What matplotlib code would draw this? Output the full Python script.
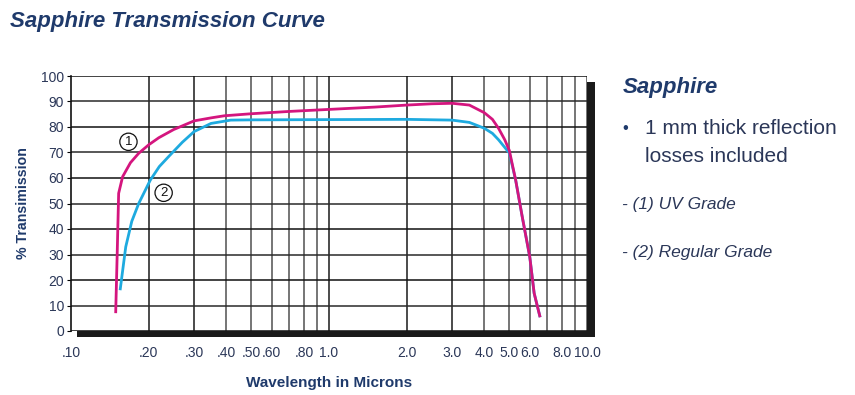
import matplotlib
matplotlib.use("Agg")
import matplotlib.pyplot as plt
from matplotlib.patches import Rectangle

plt.rcParams['font.family'] = ['Liberation Sans', 'DejaVu Sans']

# curve (1) UV grade
uv_x = [0.149, 0.151, 0.153, 0.1585, 0.17, 0.183, 0.20, 0.219, 0.25, 0.30, 0.35,
        0.393, 0.5, 0.7, 1.0, 1.5, 2.0, 2.5, 3.0, 3.5, 4.0, 4.3, 4.54, 4.8,
        5.0, 5.29, 5.61, 6.0, 6.24, 6.58]
uv_y = [7, 30, 54, 60.5, 66, 69.7, 73, 75.8, 79, 82.4, 83.6,
        84.4, 85.2, 86.1, 86.9, 87.8, 88.6, 89.1, 89.3, 88.6, 85.6, 83, 79.5, 75,
        70.8, 59.2, 44.8, 29.1, 14.8, 5.4]

# curve (2) regular grade
reg_x = [0.155, 0.163, 0.172, 0.183, 0.203, 0.22, 0.239, 0.27, 0.30, 0.349,
         0.416, 0.5, 1.0, 2.0, 3.0, 3.5, 4.0, 4.3, 4.54, 4.8,
         5.0, 5.29, 5.61, 6.0, 6.24, 6.58]
reg_y = [16, 33, 43, 50, 59.2, 64.5, 68.4, 74, 78.2, 81.4,
         82.7, 82.8, 82.9, 83.0, 82.7, 81.8, 79.5, 77.5, 75, 72,
         69.8, 59.2, 44.8, 29.1, 14.8, 5.4]

x_ticks = [0.1, 0.2, 0.3, 0.4, 0.5, 0.6, 0.8, 1.0, 2.0, 3.0, 4.0, 5.0, 6.0, 8.0, 10.0]
x_labels = ['.10', '.20', '.30', '.40', '.50', '.60', '.80', '1.0', '2.0', '3.0',
            '4.0', '5.0', '6.0', '8.0', '10.0']
y_ticks = list(range(0, 101, 10))

navy = '#1f3a6b'
txt = '#2b3758'
magenta = '#d4157e'
cyan = '#1eaadf'

fig = plt.figure(figsize=(8.55, 3.95), dpi=100)
W, H = 855, 395
x0, x1, y0, y1 = 71, 587, 76, 331
ax = fig.add_axes([x0 / W, 1 - y1 / H, (x1 - x0) / W, (y1 - y0) / H])
ax.set_zorder(2)

# drop shadow behind the plot box
fig.patches.append(Rectangle(((x0 + 6) / W, 1 - (y1 + 6) / H), (x1 - x0 + 2) / W, (y1 - y0) / H,
                             transform=fig.transFigure, facecolor='#1a1a1a', edgecolor='none', zorder=0))

ax.set_xscale('log')
ax.set_xlim(0.1, 10)
ax.set_ylim(0, 100)

# grid
dark_x = [0.2, 0.3, 1.0, 2.0, 3.0]
grey_x = [0.4, 0.5, 0.6, 0.7, 0.8, 0.9, 4.0, 5.0, 6.0, 7.0, 8.0, 9.0, 10.0]
for v in dark_x:
    ax.axvline(v, color='#1a1a1a', lw=1.1, zorder=1)
for v in grey_x:
    ax.axvline(v, color='#6a6a6a', lw=1.3, zorder=1)
for v in y_ticks:
    ax.axhline(v, color='#2a2a2a' if v % 20 else '#111111', lw=1.1, zorder=1)
for s in ['top', 'right', 'bottom']:
    ax.spines[s].set_visible(False)
ax.spines['left'].set_color('#111111')
ax.spines['left'].set_linewidth(1.2)

ax.plot(reg_x, reg_y, color=cyan, lw=2.0, zorder=3, solid_capstyle='butt')
ax.plot(uv_x, uv_y, color=magenta, lw=2.0, zorder=4, solid_capstyle='butt')

for lab, cx, cy in [('1', 0.167, 74.2), ('2', 0.2286, 54.2)]:
    ax.text(cx, cy, lab, ha='center', va='center', fontsize=9.5, color='#111111', zorder=5,
            bbox=dict(boxstyle='circle,pad=0.2', facecolor='white', edgecolor='#111111', lw=0.9))

ax.minorticks_off()
ax.set_xticks(x_ticks)
ax.set_xticklabels(x_labels)
ax.set_yticks(y_ticks)
ax.tick_params(axis='x', length=0, pad=11, labelsize=10, labelcolor=txt)
ax.tick_params(axis='y', length=3, width=0.8, pad=2, labelsize=10, labelcolor=txt)

ax.set_xlabel('Wavelength in Microns', fontsize=11, fontweight='bold', color=navy, labelpad=11)
ax.set_ylabel('% Transimission', fontsize=10.2, fontweight='bold', color=navy, labelpad=8)

fig.text(10 / W, 1 - 21 / H, 'Sapphire Transmission Curve', fontsize=16, fontweight='bold',
         style='italic', color=navy, va='center', ha='left')

fig.text(623 / W, 1 - 88 / H, 'Sapphire', fontsize=16, fontweight='bold', style='italic',
         color=navy, va='center', ha='left')
fig.text(625 / W, 1 - 129 / H, '\u2022', fontsize=12, color=navy, va='center', ha='center')
fig.text(645 / W, 1 - 128 / H, '1 mm thick reflection', fontsize=15, color=txt, va='center', ha='left')
fig.text(645 / W, 1 - 156 / H, 'losses included', fontsize=15, color=txt, va='center', ha='left')
fig.text(622 / W, 1 - 205 / H, '- (1) UV Grade', fontsize=12.5, style='italic', color=txt,
         va='center', ha='left')
fig.text(622 / W, 1 - 253 / H, '- (2) Regular Grade', fontsize=12.5, style='italic', color=txt,
         va='center', ha='left')

fig.savefig('out.png', dpi=100)
